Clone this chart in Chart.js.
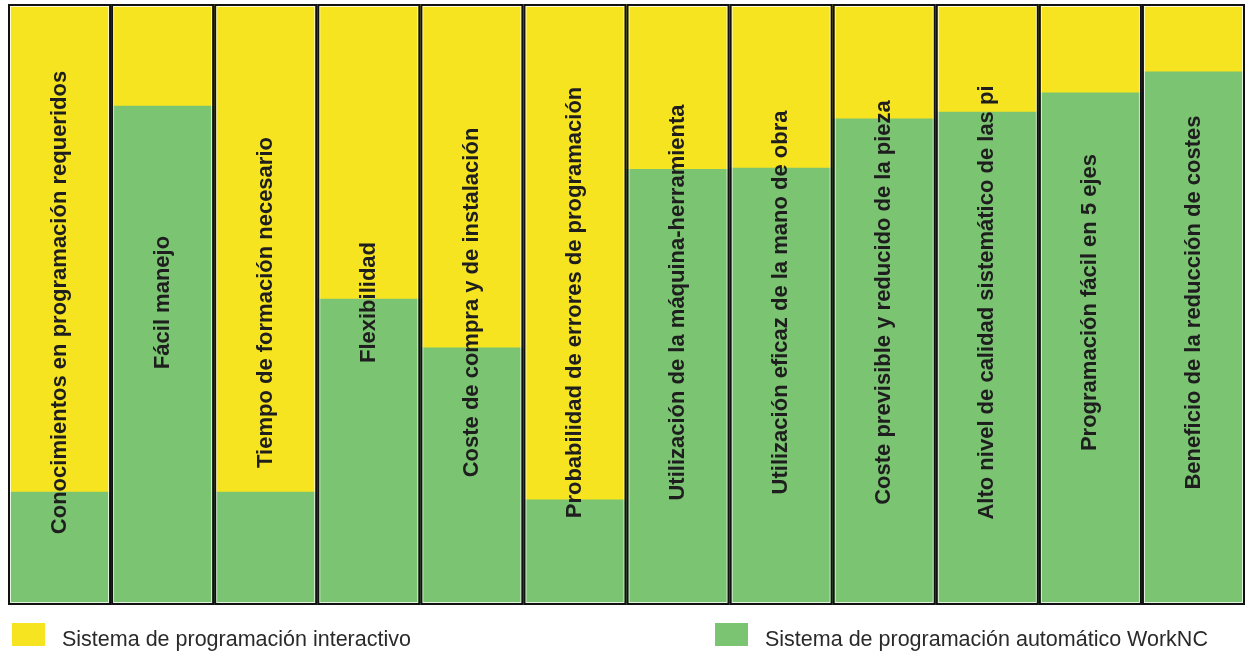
<!DOCTYPE html>
<html><head><meta charset="utf-8">
<script src="https://cdn.jsdelivr.net/npm/chart.js@4.4.1/dist/chart.umd.min.js"></script>
<style>
html,body{margin:0;padding:0;background:#fff;}
#wrap{position:relative;width:1247px;height:652px;}
</style></head>
<body><div id="wrap"><canvas id="c" width="1247" height="652"></canvas></div>
<script>
const categories = [
  "Conocimientos en programación requeridos",
  "Fácil manejo",
  "Tiempo de formación necesario",
  "Flexibilidad",
  "Coste de compra y de instalación",
  "Probabilidad de errores de programación",
  "Utilización de la máquina-herramienta",
  "Utilización eficaz de la mano de obra",
  "Coste previsible y reducido de la pieza",
  "Alto nivel de calidad sistemático de las pi",
  "Programación fácil en 5 ejes",
  "Beneficio de la reducción de costes"
];
const automaticoWorkNC = [18.8, 83.0, 18.8, 50.9, 42.8, 17.5, 72.5, 72.7, 80.9, 82.0, 85.2, 88.7];
const interactivo = automaticoWorkNC.map(v => +(100 - v).toFixed(1));
const seriesNames = ["Sistema de programación interactivo", "Sistema de programación automático WorkNC"];
const yellow = "#F7E421";
const green = "#7BC472";

const barDecor = {
  id: 'barDecor',
  afterDatasetsDraw(chart) {
    const ctx = chart.ctx;
    const ys = chart.scales.y;
    const meta = chart.getDatasetMeta(0);
    ctx.save();
    meta.data.forEach((bar, i) => {
      const w = bar.width;
      const left = bar.x - w / 2;
      const top = ys.getPixelForValue(100);
      const bottom = ys.getPixelForValue(0);
      ctx.strokeStyle = 'rgba(255,255,255,0.8)';
      ctx.lineWidth = 1;
      ctx.strokeRect(left + 2.5, top + 2.5, w - 5, bottom - top - 5);
      ctx.strokeStyle = '#111';
      ctx.lineWidth = 2;
      ctx.strokeRect(left + 1, top + 1, w - 2, bottom - top - 2);
      ctx.save();
      ctx.translate(bar.x, (top + bottom) / 2 - 2);
      ctx.rotate(-Math.PI / 2);
      ctx.fillStyle = '#1e1e1e';
      ctx.font = 'bold 22px "Liberation Sans", Arial, sans-serif';
      ctx.textAlign = 'center';
      ctx.textBaseline = 'middle';
      ctx.fillText(categories[i], 0, 0);
      ctx.restore();
    });
    ctx.font = '21.5px "Liberation Sans", Arial, sans-serif';
    ctx.textBaseline = 'alphabetic';
    ctx.textAlign = 'left';
    const items = [
      {x: 12, color: yellow, label: seriesNames[0]},
      {x: 715, color: green, label: seriesNames[1]}
    ];
    items.forEach(it => {
      ctx.fillStyle = it.color;
      ctx.fillRect(it.x, 623, 33, 23);
      ctx.fillStyle = '#2a2a2a';
      ctx.fillText(it.label, it.x + 50, 646);
    });
    ctx.restore();
  }
};

new Chart(document.getElementById('c'), {
  type: 'bar',
  data: {
    labels: categories,
    datasets: [
      {label: seriesNames[1], data: automaticoWorkNC, backgroundColor: green, borderWidth: 0, stack: 's'},
      {label: seriesNames[0], data: interactivo, backgroundColor: yellow, borderWidth: 0, stack: 's'}
    ]
  },
  options: {
    responsive: false,
    animation: false,
    layout: {padding: {left: 8, right: 2, top: 4, bottom: 47}},
    plugins: {legend: {display: false}, tooltip: {enabled: false}},
    scales: {
      x: {stacked: true, display: false, grid: {display: false}},
      y: {stacked: true, display: false, min: 0, max: 100, grid: {display: false}}
    },
    datasets: {bar: {categoryPercentage: 1, barPercentage: 1}}
  },
  plugins: [barDecor]
});
</script></body></html>
